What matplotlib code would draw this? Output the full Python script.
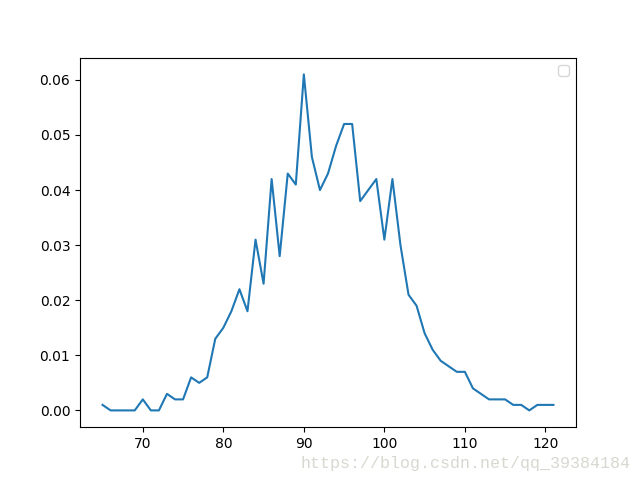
import matplotlib
matplotlib.use('Agg')
import matplotlib.pyplot as plt

# score values and their frequency
scores = list(range(65, 122))
freq = [0.001, 0.000, 0.000, 0.000, 0.000, 0.002, 0.000, 0.000, 0.003, 0.002,
        0.002, 0.006, 0.005, 0.006, 0.013, 0.015, 0.018, 0.022, 0.018, 0.031,
        0.023, 0.042, 0.028, 0.043, 0.041, 0.061, 0.046, 0.040, 0.043, 0.048,
        0.052, 0.052, 0.038, 0.040, 0.042, 0.031, 0.042, 0.030, 0.021, 0.019,
        0.014, 0.011, 0.009, 0.008, 0.007, 0.007, 0.004, 0.003, 0.002, 0.002,
        0.002, 0.001, 0.001, 0.000, 0.001, 0.001, 0.001]

fig = plt.figure(figsize=(6.4, 4.8), dpi=100)
plt.plot(scores, freq)
plt.legend(handles=[], loc='upper right')

# watermark from the source image
fig.text(0.985, 0.035, 'https://blog.csdn.net/qq_39384184', ha='right', va='center',
         fontsize=12, family='Liberation Mono', color='#d8d8d0')

plt.savefig('out.png')
